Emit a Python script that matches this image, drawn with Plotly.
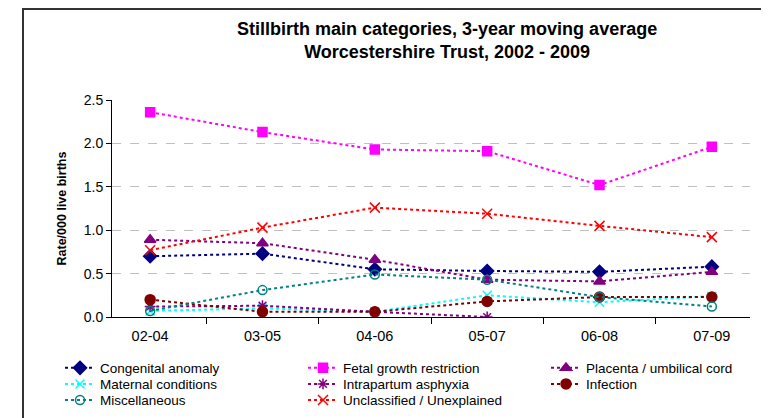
import plotly.graph_objects as go

periods = ["02-04", "03-05", "04-06", "05-07", "06-08", "07-09"]

congenital = [0.70, 0.73, 0.55, 0.53, 0.52, 0.58]
fetal_growth = [2.36, 2.13, 1.93, 1.91, 1.52, 1.96]
placenta = [0.89, 0.85, 0.66, 0.43, 0.41, 0.52]
maternal = [0.07, 0.10, 0.06, 0.25, 0.17, 0.24]
intrapartum = [0.12, 0.13, 0.06, 0.00, None, None]
infection = [0.20, 0.06, 0.06, 0.18, 0.23, 0.23]
miscellaneous = [0.07, 0.31, 0.49, 0.43, 0.23, 0.12]
unclassified = [0.77, 1.03, 1.26, 1.19, 1.05, 0.92]

# name, values, colour, marker symbol, marker size, legend row
series = [
    ("Congenital anomaly", congenital, "#000080", "diamond", 10, "legend"),
    ("Fetal growth restriction", fetal_growth, "#FF00FF", "square", 9, "legend"),
    ("Placenta / umbilical cord", placenta, "#800080", "triangle-up", 10, "legend"),
    ("Maternal conditions", maternal, "#00FFFF", "x-thin", 9, "legend2"),
    ("Intrapartum asphyxia", intrapartum, "#800080", "asterisk", 9, "legend2"),
    ("Infection", infection, "#800000", "circle", 10, "legend2"),
    ("Miscellaneous", miscellaneous, "#008080", "circle-open", 9, "legend3"),
    ("Unclassified / Unexplained", unclassified, "#FF0000", "x-thin", 10, "legend3"),
]

fig = go.Figure()
for name, vals, col, sym, size, leg in series:
    fig.add_trace(go.Scatter(
        x=periods, y=vals, name=name, mode="lines+markers", legend=leg,
        line=dict(color=col, width=2, dash="3px,3px"),
        marker=dict(symbol=sym, size=size, color=col,
                    line=dict(color=col, width=1.5)),
    ))

# one horizontal legend per row, so rows sit as tightly as in the original
legend_style = dict(
    orientation="h", x=-0.0815, xanchor="left", yanchor="top",
    entrywidth=198, entrywidthmode="pixels",
    font=dict(size=13.5), traceorder="normal", itemclick=False,
    bgcolor="rgba(0,0,0,0)",
)

fig.update_layout(
    width=769, height=418,
    margin=dict(l=104, r=27, t=92, b=109, autoexpand=False),
    paper_bgcolor="white", plot_bgcolor="white",
    font=dict(family="Arial, Liberation Sans", size=14, color="black"),
    title=dict(
        text="<b>Stillbirth main categories, 3-year moving average<br>Worcestershire Trust, 2002 - 2009</b>",
        x=0.571, xanchor="center", y=0.936, yanchor="top",
        font=dict(size=18),
    ),
    showlegend=True,
    legend=dict(legend_style, y=-0.164),
    legend2=dict(legend_style, y=-0.238),
    legend3=dict(legend_style, y=-0.312),
)

fig.update_xaxes(
    type="category", showline=True, linecolor="black", linewidth=1,
    ticks="outside", ticklen=6, tickson="boundaries", tickcolor="black",
    showgrid=False, tickfont=dict(size=14.5), ticklabelstandoff=6,
)
fig.update_yaxes(
    range=[0, 2.5], dtick=0.5, tickformat=".1f",
    showline=True, linecolor="black", linewidth=1,
    ticks="outside", ticklen=5, tickcolor="black",
    showgrid=True, gridcolor="#C0C0C0", griddash="dash", gridwidth=1,
    zeroline=False, tickfont=dict(size=14),
    title=dict(text="<b>Rate/000 live births</b>", font=dict(size=12.5), standoff=14),
)

# outer chart frame
fig.add_shape(type="rect", xref="paper", yref="paper",
              x0=-0.1395, x1=1.0235, y0=-0.52, y1=1.419,
              line=dict(color="#333333", width=2), fillcolor="rgba(0,0,0,0)")

fig.write_html("out.html")
